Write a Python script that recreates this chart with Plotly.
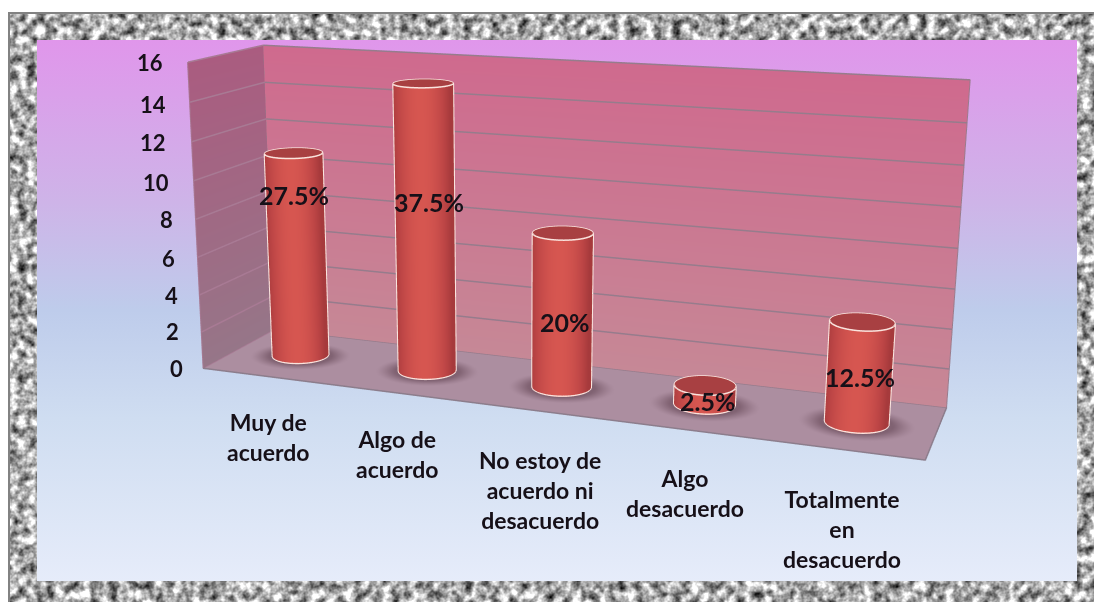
import base64
import numpy as np
import plotly.graph_objects as go

categories = ['Muy de<br>acuerdo', 'Algo de<br>acuerdo', 'No estoy de<br>acuerdo ni<br>desacuerdo',
              'Algo<br>desacuerdo', 'Totalmente<br>en<br>desacuerdo']
values = [11, 15, 8, 1, 5]
percent_labels = ['27.5%', '37.5%', '20%', '2.5%', '12.5%']
z_ticks = [0, 2, 4, 6, 8, 10, 12, 14, 16]

W, H = 1094, 602
FONT = 'Lato'

# box slant and camera, worked out from the wall corners in the picture
SX, SW, SC, DEPTH, TALL = 0.05311, -0.03323, 0.18669, 0.11205, 0.39471
EYE = np.array([0.65734, -0.74087, 0.65837])
ROT_VEC = np.array([0.56386, 0.05363, -0.18348])
RADIUS_U, RADIUS_V = 0.04, 0.195

LIGHT = dict(ambient=1, diffuse=0, specular=0, roughness=1, fresnel=0)


def rotation(v):
    t = np.linalg.norm(v)
    k = v / t
    K = np.array([[0, -k[2], k[1]], [k[2], 0, -k[0]], [-k[1], k[0], 0]])
    return np.eye(3) + np.sin(t) * K + (1 - np.cos(t)) * K @ K


R = rotation(ROT_VEC)
right, fwd, up = R[0], R[1], R[2]


def warp(x, y, z):
    # slanted box: x and y shift with depth and height, z stays the value itself
    x, y, z = np.asarray(x, float), np.asarray(y, float), np.asarray(z, float)
    return x + 5 * (SX * y + SW * z / 16), y + SC / DEPTH * z / 16, z


def screen_x(x, y, z):
    wx, wy, wz = warp(x, y, z)
    q = R @ (np.array([wx / 5, wy * DEPTH, wz / 16 * TALL]) - EYE)
    return q[0] / q[1]


def surface(x, y, z, color, scale, cmin=0, cmax=1):
    x, y, z = warp(x, y, z)
    return go.Surface(x=x, y=y, z=z, surfacecolor=color, colorscale=scale, cmin=cmin, cmax=cmax,
                      showscale=False, lighting=LIGHT, hoverinfo='skip',
                      contours=dict(x=dict(highlight=False), y=dict(highlight=False), z=dict(highlight=False)))


def line3d(x, y, z, color, width):
    x, y, z = warp(x, y, z)
    return go.Scatter3d(x=x, y=y, z=z, mode='lines', line=dict(color=color, width=width),
                        hoverinfo='skip', showlegend=False)


fig = go.Figure()

# back wall
xx, zz = np.meshgrid(np.linspace(0, 5, 2), np.linspace(0, 16, 30))
fig.add_trace(surface(xx, np.ones_like(xx), zz, zz, [[0, 'rgb(198,136,150)'], [1, 'rgb(207,106,142)']], 0, 16))
# side wall
yy, zz = np.meshgrid(np.linspace(0, 1, 2), np.linspace(0, 16, 30))
fig.add_trace(surface(np.zeros_like(yy), yy, zz, zz, [[0, 'rgb(150,118,136)'], [1, 'rgb(170,92,128)']], 0, 16))
# floor, darkened around the foot of each bar
rx, ry = RADIUS_U * 5, RADIUS_V
xx, yy = np.meshgrid(np.linspace(0, 5, 260), np.linspace(0, 1, 90))
shade = np.zeros_like(xx)
for i in range(len(values)):
    d = np.hypot((xx - i - 0.5) / (rx * 1.35), (yy - 0.5) / (ry * 1.2))
    shade = np.maximum(shade, np.clip((1.35 - d) / 0.5, 0, 1) ** 1.3)
fig.add_trace(surface(xx, yy, np.zeros_like(xx), shade, [[0, 'rgb(172,142,160)'], [1, 'rgb(128,98,114)']]))

# grid lines on walls
GRID = 'rgb(150,124,140)'
GRID_SIDE = 'rgb(168,122,148)'
for t in z_ticks:
    fig.add_trace(line3d([0.004, 5], [0.995, 0.995], [t, t], GRID, 3))
    fig.add_trace(line3d([0.004, 0.004], [0, 0.995], [t, t], GRID_SIDE, 3))
fig.add_trace(line3d([0, 0, 0], [0, 0, 0], [0, 16, 0], GRID_SIDE, 2))
fig.add_trace(line3d([0, 5, 5, 0, 0], [0, 0, 1, 1, 0], [0.02] * 5, 'rgb(140,125,140)', 3))
fig.add_trace(line3d([0, 0, 5, 5], [1, 1, 1, 1], [0, 16, 16, 0], GRID, 2))

# cylinders
EDGE = 'rgb(250,228,222)'
bar_scale = [[0, 'rgb(166,58,60)'], [0.45, 'rgb(190,70,70)'], [1, 'rgb(214,86,80)']]
theta = np.linspace(0, 2 * np.pi, 181)
for i, v in enumerate(values):
    cx, cy = i + 0.5, 0.5
    sx = np.array([screen_x(cx + rx * np.cos(t), cy + ry * np.sin(t), v / 2) for t in theta])
    pos = (sx - sx.min()) / (sx.max() - sx.min())
    side = np.clip(1 - np.abs(2 * pos - 0.9) ** 2, 0, 1)
    tt, zz = np.meshgrid(theta, [0, v])
    fig.add_trace(surface(cx + rx * np.cos(tt), cy + ry * np.sin(tt), zz, np.vstack([side, side]), bar_scale))
    rr, tt = np.meshgrid([0, 1], theta)
    fig.add_trace(surface(cx + rx * rr * np.cos(tt), cy + ry * rr * np.sin(tt), v + 0 * rr, 0 * rr + 0.5,
                          [[0, 'rgb(168,64,66)'], [1, 'rgb(168,64,66)']]))
    ring_x, ring_y = cx + rx * 1.005 * np.cos(theta), cy + ry * 1.005 * np.sin(theta)
    fig.add_trace(line3d(ring_x, ring_y, [v] * len(theta), EDGE, 3))
    fig.add_trace(line3d(ring_x, ring_y, [0.05] * len(theta), EDGE, 3))
    for a in (theta[sx.argmin()], theta[sx.argmax()]):
        fig.add_trace(line3d([cx + rx * 1.01 * np.cos(a)] * 2, [cy + ry * 1.01 * np.sin(a)] * 2, [0, v], EDGE, 3))

# picture frame and panel behind the chart
svg = f'''<svg xmlns="http://www.w3.org/2000/svg" width="{W}" height="{H}">
<defs><linearGradient id="g" x1="0" y1="0" x2="0" y2="1">
<stop offset="0" stop-color="rgb(224,150,235)"/><stop offset="0.3" stop-color="rgb(206,180,232)"/>
<stop offset="0.5" stop-color="rgb(190,204,235)"/><stop offset="0.7" stop-color="rgb(207,221,241)"/>
<stop offset="1" stop-color="rgb(230,236,250)"/></linearGradient>
<filter id="n" x="0" y="0" width="100%" height="100%" color-interpolation-filters="sRGB">
<feTurbulence type="fractalNoise" baseFrequency="0.11" numOctaves="3" seed="4"/>
<feColorMatrix values="1.6 0 0 0 -0.13 1.6 0 0 0 -0.13 1.6 0 0 0 -0.13 0 0 0 0 1"/></filter></defs>
<rect width="{W}" height="{H}" fill="white"/>
<rect x="8" y="12" width="{W - 8}" height="{H - 12}" filter="url(#n)"/>
<path d="M9 {H} V13 H{W}" fill="none" stroke="rgb(130,130,130)" stroke-width="2"/>
<rect x="37" y="40" width="1040" height="541" fill="url(#g)"/></svg>'''
fig.add_layout_image(source='data:image/svg+xml;base64,' + base64.b64encode(svg.encode()).decode(),
                     xref='paper', yref='paper', x=0, y=1, sizex=1, sizey=1, xanchor='left', yanchor='top',
                     sizing='stretch', layer='below')

TEXT = 'rgb(22,16,24)'


def note(text, px, py, size, anchor='center'):
    fig.add_annotation(text=text, x=px / W, y=1 - py / H, xref='paper', yref='paper', showarrow=False,
                       xanchor=anchor, yanchor='middle', align='center',
                       font=dict(family=FONT, size=size, color=TEXT, weight='bold'))


tick_right = [185, 181, 180, 177, 175, 171, 168, 168, 165]
tick_y = [368, 332, 295, 258, 219, 182, 143, 105, 63]
for t, tx, ty in zip(z_ticks, tick_right, tick_y):
    note(str(t), tx, ty, 22, 'right')
for c, cx, cy in zip(categories, [268, 397, 540, 685, 842], [437, 454, 490, 493, 529]):
    note(c, cx, cy, 23)
for c, cx, cy in zip(percent_labels, [294, 429, 565, 707, 860], [195, 202, 322, 401, 377]):
    note(c, cx, cy, 25)

# scene box from the slanted walls, plotly centres it on the origin
corner_x, corner_y, _ = warp([0, 5, 0, 5, 0, 5, 0, 5], [0, 0, 1, 1, 0, 0, 1, 1], [0, 0, 0, 0, 16, 16, 16, 16])
xr = [corner_x.min(), corner_x.max()]
yr = [corner_y.min(), corner_y.max()]
box = np.array([(xr[1] - xr[0]) / 5, (yr[1] - yr[0]) * DEPTH, TALL])
mid = np.array([(xr[0] + xr[1]) / 10, (yr[0] + yr[1]) / 2 * DEPTH, TALL / 2])
eye_s = EYE - mid
center_s = eye_s + fwd * np.linalg.norm(eye_s)

hidden = dict(visible=False, showspikes=False)
fig.update_layout(
    width=W, height=H, margin=dict(l=0, r=0, t=0, b=0), paper_bgcolor='rgba(0,0,0,0)', showlegend=False,
    scene=dict(
        domain=dict(x=[0, 1], y=[0, 1]), bgcolor='rgba(0,0,0,0)',
        xaxis=dict(range=xr, **hidden), yaxis=dict(range=yr, **hidden), zaxis=dict(range=[0, 16], **hidden),
        aspectmode='manual', aspectratio=dict(x=box[0], y=box[1], z=box[2]),
        camera=dict(eye=dict(x=eye_s[0], y=eye_s[1], z=eye_s[2]),
                    center=dict(x=center_s[0], y=center_s[1], z=center_s[2]),
                    up=dict(x=up[0], y=up[1], z=up[2]), projection=dict(type='perspective')),
    ),
)
fig.write_html('out.html', config=dict(displayModeBar=False), post_script="document.body.style.margin='0';")
